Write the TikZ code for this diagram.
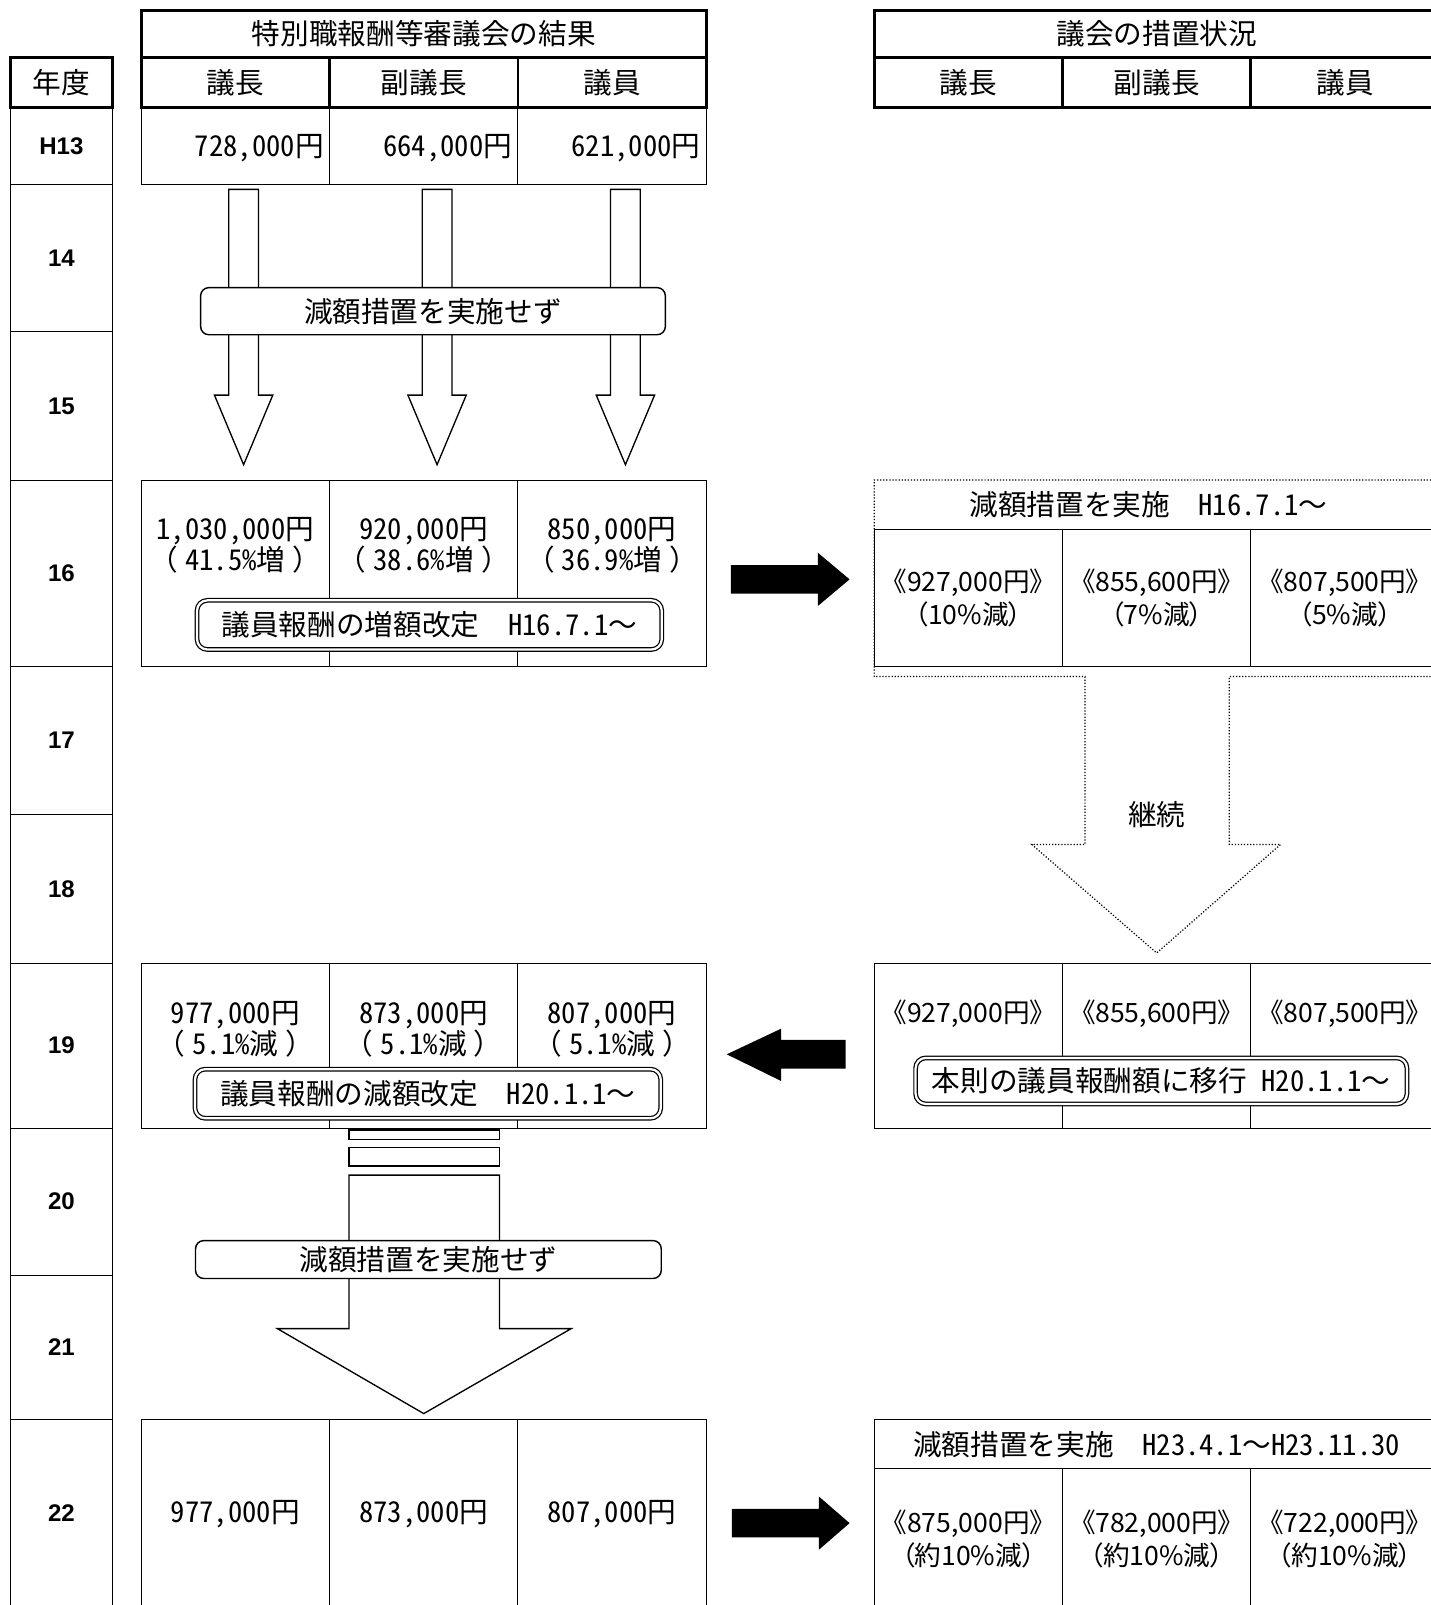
\documentclass[tikz,border=0pt]{standalone}
\usepackage{fontspec}
\newfontfamily\jpfont[RawFeature=+hwid]{Noto Sans CJK JP}
\newfontfamily\jpwide{Noto Sans CJK JP}
\newfontfamily\jppfont[RawFeature=+palt]{Noto Sans CJK JP}
\newfontfamily\yrfont{Liberation Sans}
\newcommand{\wz}[1]{{\jpwide #1}}
\newcommand{\pct}[1]{\wz{（}\hspace{7pt}#1\hspace{7pt}\wz{）}}
\usetikzlibrary{positioning}

\begin{document}
\begin{tikzpicture}[x=1pt,y=-1pt,line join=miter]
  \tikzstyle{cell}=[draw,line width=1pt,inner sep=0pt,minimum width=184pt]
  \tikzstyle{head}=[cell,line width=2.8pt,minimum height=49pt,font=\jpfont\fontsize{28}{30}\selectfont]
  \tikzstyle{txt}=[font=\jpfont\fontsize{28}{30}\selectfont,align=center,inner sep=0pt]
  \tikzstyle{ptxt}=[font=\jppfont\fontsize{26}{32}\selectfont,align=center,inner sep=0pt]
  \tikzstyle{yr}=[draw,line width=1pt,minimum width=100pt,inner sep=0pt,font=\yrfont\bfseries\fontsize{23.5}{26}\selectfont]
  \tikzstyle{tag}=[txt,draw,line width=1.4pt,rounded corners=8pt,fill=white]
  \tikzstyle{dtag}=[tag,double,double distance=2.2pt,line width=1.2pt,rounded corners=10pt]
  \tikzstyle{hollow}=[draw,line width=1.3pt,fill=white]
  \tikzstyle{dots}=[draw,line width=1.2pt,dash pattern=on 1.2pt off 1.8pt]

  \useasboundingbox (0,0) rectangle (1398,1568);
  \clip (0,0) rectangle (1398,1568);

  % year column
  \node[head,minimum width=100pt] (yh) at (60,80.5) {年度};
  \foreach \t/\b/\lab [count=\i] in {105/180/H13,180/324/14,324/469/15,469/651/16,651/796/17,
      796/941/18,941/1102/19,1102/1246/20,1246/1387/21,1387/1570/22}
    \node[yr,minimum height={\b-\t}] (yr\i) at (60,{(\t+\b)/2}) {\lab};

  % headers
  \node[head,minimum width=552pt,minimum height=46pt] (lt) at (414,33) {特別職報酬等審議会の結果};
  \node[head,minimum width=552pt,minimum height=46pt] (rt) at (1130,33) {議会の措置状況};
  \foreach \x/\lab/\n in {230/議長/a,414/副議長/b,598/議員/c}
    \node[head] (lh\n) at (\x,80.5) {\lab};
  \foreach \x/\lab/\n in {946/議長/a,1130/副議長/b,1314/議員/c}
    \node[head] (rh\n) at (\x,80.5) {\lab};

  % table cells
  \foreach \x/\n in {230/a,414/b,598/c} {
    \node[cell,minimum height=75pt]  (l13\n) at (\x,142.5) {};
    \node[cell,minimum height=182pt] (l16\n) at (\x,560) {};
    \node[cell,minimum height=161pt] (l19\n) at (\x,1021.5) {};
    \node[cell,minimum height=183pt] (l22\n) at (\x,1478.5) {};
  }
  \foreach \x/\n in {946/a,1130/b,1314/c} {
    \node[cell,minimum height=134pt] (r16\n) at (\x,584) {};
    \node[cell,minimum height=161pt] (r19\n) at (\x,1021.5) {};
    \node[cell,minimum height=135pt] (r22\n) at (\x,1502.5) {};
  }
  \node[cell,txt,minimum width=552pt,minimum height=48pt] (r22t) at (1130,1411)
    {減額措置を実施\wz{　}H23.4.1\wz{～}H23.11.30};

  % H13 values
  \node[txt,anchor=east] (v13a) at ([xshift=-6pt,yshift=-2pt]l13a.east) {728,000円};
  \node[txt,anchor=east] (v13b) at ([xshift=-6pt,yshift=-2pt]l13b.east) {664,000円};
  \node[txt,anchor=east] (v13c) at ([xshift=-6pt,yshift=-2pt]l13c.east) {621,000円};

  % no reduction 14-15
  \foreach \cx in {238,427,611}
    \draw[hollow] (\cx-14.5,185) -- (\cx+14.5,185) -- (\cx+14.5,386) -- (\cx+28.5,386)
      -- (\cx,454) -- (\cx-28.5,386) -- (\cx-14.5,386) -- cycle;
  \node[tag,minimum width=454pt,minimum height=46pt] (n14) at (423,304) {減額措置を実施せず};

  % 16
  \node[txt] (t16a) at (230,533) {1,030,000円\\\pct{41.5\%増}};
  \node[txt] (t16b) at (414,533) {920,000円\\\pct{38.6\%増}};
  \node[txt] (t16c) at (598,533) {850,000円\\\pct{36.9\%増}};
  \node[dtag,minimum width=454pt,minimum height=48pt] (d16) at (419.5,610.5)
    {議員報酬の増額改定\wz{　}H16.7.1\wz{～}};
  \fill (714,552) -- (799,552) -- (799,540) -- (830,566) -- (799,592) -- (799,580) -- (714,580) -- cycle;
  \draw[dots] (1410,469) -- (854,469) -- (854,661) -- (1060,661) -- (1060,825) -- (1008,825)
    -- (1130,931) -- (1251,825) -- (1201,825) -- (1201,661) -- (1410,661);
  \node[txt] (r16t) at (1122,493) {減額措置を実施\wz{　}H16.7.1\wz{～}};
  \node[ptxt] (p16a) at (946,584) {《927,000円》\\（10\%減）};
  \node[ptxt] (p16b) at (1130,584) {《855,600円》\\（7\%減）};
  \node[ptxt] (p16c) at (1314,584) {《807,500円》\\（5\%減）};
  \node[txt] (keep) at (1130,796) {継続};

  % 19
  \node[txt] (t19a) at (230,1005.5) {977,000円\\\pct{5.1\%減}};
  \node[txt] (t19b) at (414,1005.5) {873,000円\\\pct{5.1\%減}};
  \node[txt] (t19c) at (598,1005.5) {807,000円\\\pct{5.1\%減}};
  \node[dtag,minimum width=455pt,minimum height=48pt] (d19) at (418,1068.5)
    {議員報酬の減額改定\wz{　}H20.1.1\wz{～}};
  \fill (826,1016) -- (763,1016) -- (763,1005) -- (710,1030) -- (763,1056) -- (763,1044) -- (826,1044) -- cycle;
  \node[ptxt] (p19a) at (946,990) {《927,000円》};
  \node[ptxt] (p19b) at (1130,990) {《855,600円》};
  \node[ptxt] (p19c) at (1314,990) {《807,500円》};
  \node[dtag,minimum width=480pt,minimum height=45pt] (d19r) at (1134.5,1056)
    {本則の議員報酬額に移行 H20.1.1\wz{～}};

  % no reduction 20-21
  \draw[hollow] (341,1104) rectangle (488,1113);
  \draw[hollow] (341,1121) rectangle (488,1139);
  \draw[hollow] (341,1148) -- (488,1148) -- (488,1298) -- (558,1298) -- (414,1381)
    -- (271,1298) -- (341,1298) -- cycle;
  \node[tag,minimum width=455pt,minimum height=37pt] (n20) at (418.5,1230.5) {減額措置を実施せず};

  % 22
  \node[txt] (t22a) at (230,1479) {977,000円};
  \node[txt] (t22b) at (414,1479) {873,000円};
  \node[txt] (t22c) at (598,1479) {807,000円};
  \fill (715,1474) -- (800,1474) -- (800,1462) -- (830,1488) -- (800,1514) -- (800,1502) -- (715,1502) -- cycle;
  \node[ptxt] (p22a) at (946,1503.5) {《875,000円》\\（約10\%減）};
  \node[ptxt] (p22b) at (1130,1503.5) {《782,000円》\\（約10\%減）};
  \node[ptxt] (p22c) at (1314,1503.5) {《722,000円》\\（約10\%減）};
\end{tikzpicture}
\end{document}
